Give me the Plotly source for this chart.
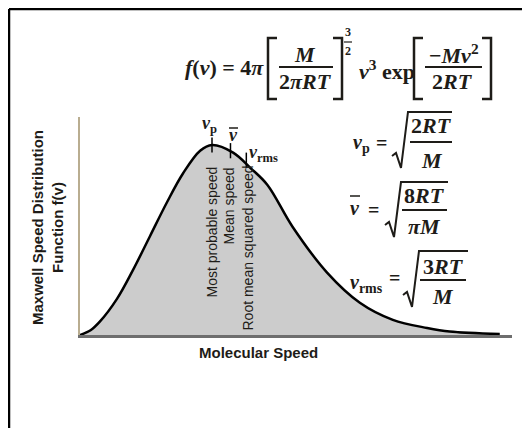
import plotly.graph_objects as go

# curve (speed in units of v_p, f normalised to the peak)
speed = [0, 0.08, 0.15, 0.28, 0.40, 0.53, 0.66, 0.78, 0.91, 1.0, 1.16, 1.29, 1.42,
         1.61, 1.87, 2.12, 2.37, 2.63, 2.80, 3.18]
f_v = [0, 0.025, 0.07, 0.19, 0.34, 0.52, 0.70, 0.85, 0.97, 1.0, 0.96, 0.88, 0.79,
       0.57, 0.33, 0.17, 0.08, 0.037, 0.018, 0.005]

# the three marked speeds: most probable, mean, rms
marker_speed = [1.0, 1.14, 1.26]
marker_f = [1.0, 0.97, 0.92]
marker_names = ['Most probable speed', 'Mean speed', 'Root mean squared speed']

# page has an 8px body margin, so the figure is 8px smaller and shifted
OFF = 8
W, H = 530 - OFF, 428 - OFF
SERIF = 'Liberation Serif'
SANS = 'Liberation Sans'
INK = '#1e1c18'


def px(x):
    return (x - OFF) / W


def py(y):
    return 1 - (y - OFF) / H


fig = go.Figure()

fig.add_trace(go.Scatter(x=speed, y=f_v, mode='lines', line=dict(color='black', width=2.5, shape='spline'),
                         fill='tozeroy', fillcolor='#cccccc', hoverinfo='skip'))

# little ticks where the speeds cross the curve
tx, ty = [], []
for s, f in zip(marker_speed, marker_f):
    tx += [s, s, None]
    ty += [f - 0.04, f + 0.04, None]
fig.add_trace(go.Scatter(x=tx, y=ty, mode='lines', line=dict(color='black', width=1.5), hoverinfo='skip'))

annotations = []
shapes = []


def txt(text, x, y, size=22, family=SERIF, xanchor='center', yanchor='middle', angle=0, bold=True):
    if bold:
        text = '<b>' + text + '</b>'
    annotations.append(dict(text=text, x=px(x), y=py(y), xref='paper', yref='paper', showarrow=False,
                            font=dict(family=family, size=size, color=INK),
                            xanchor=xanchor, yanchor=yanchor, textangle=angle))


def line(x0, y0, x1, y1, w=2):
    shapes.append(dict(type='line', xref='paper', yref='paper', x0=px(x0), y0=py(y0), x1=px(x1), y1=py(y1),
                       line=dict(color=INK, width=w)))


def path(points, w=2):
    d = 'M ' + ' L '.join(f'{px(a):.5f},{py(b):.5f}' for a, b in points)
    shapes.append(dict(type='path', xref='paper', yref='paper', path=d, line=dict(color=INK, width=w)))


def bracket(x0, x1, y0, y1, left=True):
    if left:
        path([(x1, y0), (x0, y0), (x0, y1), (x1, y1)], 2.5)
    else:
        path([(x0, y0), (x1, y0), (x1, y1), (x0, y1)], 2.5)


def radical(x, top, bottom, right):
    path([(x, bottom - 12), (x + 4, bottom - 15), (x + 9, bottom), (x + 16, top), (right, top)], 2)


# main formula
txt('<i>f</i>(<i>v</i>) = 4<i>π</i>', 266, 68, xanchor='right')
bracket(268, 277, 38, 99, left=True)
txt('<i>M</i>', 305, 54)
line(279, 67, 333, 67)
txt('2<i>πRT</i>', 305, 81)
bracket(333, 342, 38, 99, left=False)
txt('3', 348, 32, size=12)
line(344, 42, 352, 42, 1.2)
txt('2', 348, 51, size=12)
txt('<i>v</i><sup>3</sup> exp', 357, 70, xanchor='left')
bracket(414, 423, 38, 99, left=True)
txt('−<i>Mv</i><sup>2</sup>', 454, 54)
line(425, 67, 482, 67)
txt('2<i>RT</i>', 452, 81)
bracket(482, 491, 38, 99, left=False)

# speed labels above the curve
txt('<i>v</i><sub>p</sub>', 209, 124, size=18)
txt('<i>v</i>', 233, 135, size=18)
line(229, 128, 238, 128, 1.5)
txt('<i>v</i><sub>rms</sub>', 263, 153, size=18)

# rotated names under the ticks
for name, xpix, top in zip(marker_names, [211, 228, 247], [165, 166, 164]):
    txt(name, xpix, top, size=14, family=SANS, yanchor='top', angle=-90, bold=False)

# right-hand formulas
txt('<i>v</i><sub>p</sub>', 361, 144, size=20)
txt('=', 381, 143, size=20)
radical(392, 112, 168, 452)
txt('2<i>RT</i>', 431, 125)
line(410, 142, 452, 142)
txt('<i>M</i>', 432, 160)

txt('<i>v</i>', 355, 208, size=20)
line(350, 196, 360, 196, 1.5)
txt('=', 373, 210, size=20)
radical(385, 182, 237, 448)
txt('8<i>RT</i>', 424, 196)
line(402, 210, 447, 210)
txt('<i>πM</i>', 424, 226)

txt('<i>v</i><sub>rms</sub>', 366, 283, size=20)
txt('=', 394, 278, size=20)
radical(403, 251, 307, 468)
txt('3<i>RT</i>', 443, 266)
line(420, 280, 466, 280)
txt('<i>M</i>', 443, 296)

# axis titles
txt('Molecular Speed', 258, 352, size=15, family=SANS)
txt('Maxwell Speed Distribution<br>Function f(v)', 47, 228, size=15, family=SANS, angle=-90)

# frame round the picture
shapes.append(dict(type='line', xref='paper', yref='paper', x0=px(9), y0=py(9), x1=1, y1=py(9),
                   line=dict(color='black', width=2.5)))
shapes.append(dict(type='line', xref='paper', yref='paper', x0=px(9), y0=py(9), x1=px(9), y1=0,
                   line=dict(color='black', width=2.5)))

fig.update_layout(
    width=W, height=H,
    margin=dict(l=0, r=0, t=0, b=0, pad=0),
    paper_bgcolor='white', plot_bgcolor='white',
    showlegend=False,
    annotations=annotations, shapes=shapes,
    xaxis=dict(domain=[px(80), px(512)], range=[0, (512 - 80) / 132], showgrid=False, zeroline=False,
               showticklabels=False, ticks='', showline=True, linecolor='#6e6e6e', linewidth=3),
    yaxis=dict(domain=[py(335), py(117)], range=[0, (335 - 117) / 190], showgrid=False, zeroline=False,
               showticklabels=False, ticks='', showline=True, linecolor='#b9ad90', linewidth=2),
)

fig.write_html("out.html")
